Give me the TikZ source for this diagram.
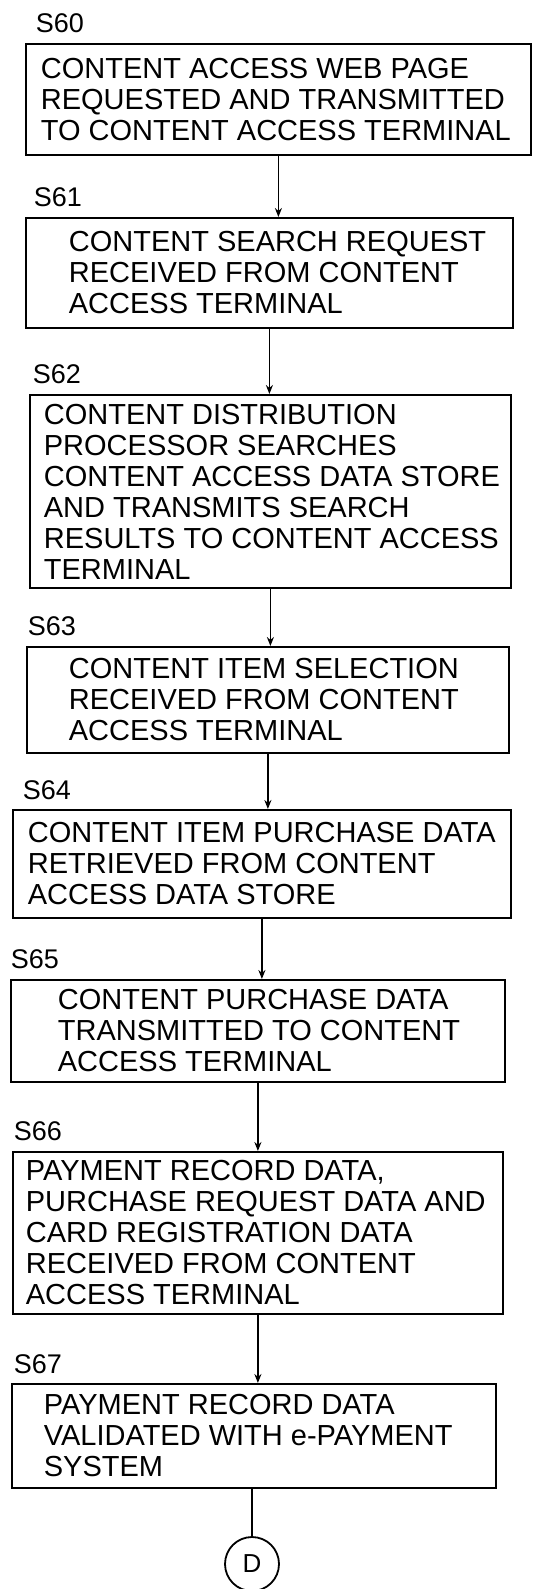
\documentclass[tikz,border=0pt]{standalone}
\usepackage{fontspec}
\setmainfont{Liberation Sans}
\usetikzlibrary{positioning,arrows.meta}

\begin{document}
\begin{tikzpicture}[x=1pt,y=-1pt,line width=1.8pt,
        box/.style={draw, rectangle, inner sep=0pt, anchor=north west},
        txt/.style={align=left, inner sep=0pt,
                        font=\fontsize{29}{31}\selectfont},
        num/.style={inner sep=0pt, font=\fontsize{27}{27}\selectfont},
        arr/.style={-{Stealth[length=9pt,width=7pt]}}]
    \useasboundingbox (0,0) rectangle (534,1589);

    % steps
    \node[box, minimum width=505pt, minimum height=111pt] (s60) at (25,43) {};
    \node[txt, right=15pt of s60.west] (t60) {CONTENT ACCESS WEB PAGE\\
        REQUESTED AND TRANSMITTED\\TO CONTENT ACCESS TERMINAL};
    \node[num, above right=9pt and 10pt of s60.north west] (n60) {S60};

    \node[box, minimum width=487pt, minimum height=110pt] (s61) at (25,217) {};
    \node[txt, right=43pt of s61.west] (t61) {CONTENT SEARCH REQUEST\\
        RECEIVED FROM CONTENT\\ACCESS TERMINAL};
    \node[num, above right=9pt and 8pt of s61.north west] (n61) {S61};

    \node[box, minimum width=481pt, minimum height=193pt] (s62) at (29,394) {};
    \node[txt, right=14pt of s62.west] (t62) {CONTENT DISTRIBUTION\\
        PROCESSOR SEARCHES\\CONTENT ACCESS DATA STORE\\
        AND TRANSMITS SEARCH\\RESULTS TO CONTENT ACCESS\\TERMINAL};
    \node[num, above right=9pt and 3pt of s62.north west] (n62) {S62};

    \node[box, minimum width=482pt, minimum height=106pt] (s63) at (26,646) {};
    \node[txt, right=42pt of s63.west] (t63) {CONTENT ITEM SELECTION\\
        RECEIVED FROM CONTENT\\ACCESS TERMINAL};
    \node[num, above right=9pt and 1pt of s63.north west] (n63) {S63};

    \node[box, minimum width=498pt, minimum height=108pt] (s64) at (12,809) {};
    \node[txt, right=15pt of s64.west] (t64) {CONTENT ITEM PURCHASE DATA\\
        RETRIEVED FROM CONTENT\\ACCESS DATA STORE};
    \node[num, above right=8pt and 10pt of s64.north west] (n64) {S64};

    \node[box, minimum width=494pt, minimum height=102pt] (s65) at (10,979) {};
    \node[txt, right=47pt of s65.west] (t65) {CONTENT PURCHASE DATA\\
        TRANSMITTED TO CONTENT\\ACCESS TERMINAL};
    \node[num, above right=9pt and 0pt of s65.north west] (n65) {S65};

    \node[box, minimum width=490pt, minimum height=162pt] (s66) at (12,1151) {};
    \node[txt, right=13pt of s66.west] (t66) {PAYMENT RECORD DATA,\\
        PURCHASE REQUEST DATA AND\\CARD REGISTRATION DATA\\
        RECEIVED FROM CONTENT\\ACCESS TERMINAL};
    \node[num, above right=9pt and 1pt of s66.north west] (n66) {S66};

    \node[box, minimum width=484pt, minimum height=104pt] (s67) at (11,1383) {};
    \node[txt, right=32pt of s67.west] (t67) {PAYMENT RECORD DATA\\
        VALIDATED WITH e-PAYMENT\\SYSTEM};
    \node[num, above right=8pt and 2pt of s67.north west] (n67) {S67};

    \node[circle, draw, minimum size=54pt, inner sep=0pt,
        font=\fontsize{26}{26}\selectfont] (d) at (252,1564) {D};

    % flow
    \draw[arr] (s60.south) -- (s60.south |- s61.north);
    \draw[arr] (s61.south) -- (s61.south |- s62.north);
    \draw[arr] (s62.south) -- (s62.south |- s63.north);
    \draw[arr] (s63.south) -- (s63.south |- s64.north);
    \draw[arr] (s64.south) -- (s64.south |- s65.north);
    \draw[arr] (s65.south) -- (s65.south |- s66.north);
    \draw[arr] (s66.south) -- (s66.south |- s67.north);
    \draw (d.north |- s67.south) -- (d.north);
\end{tikzpicture}
\end{document}
